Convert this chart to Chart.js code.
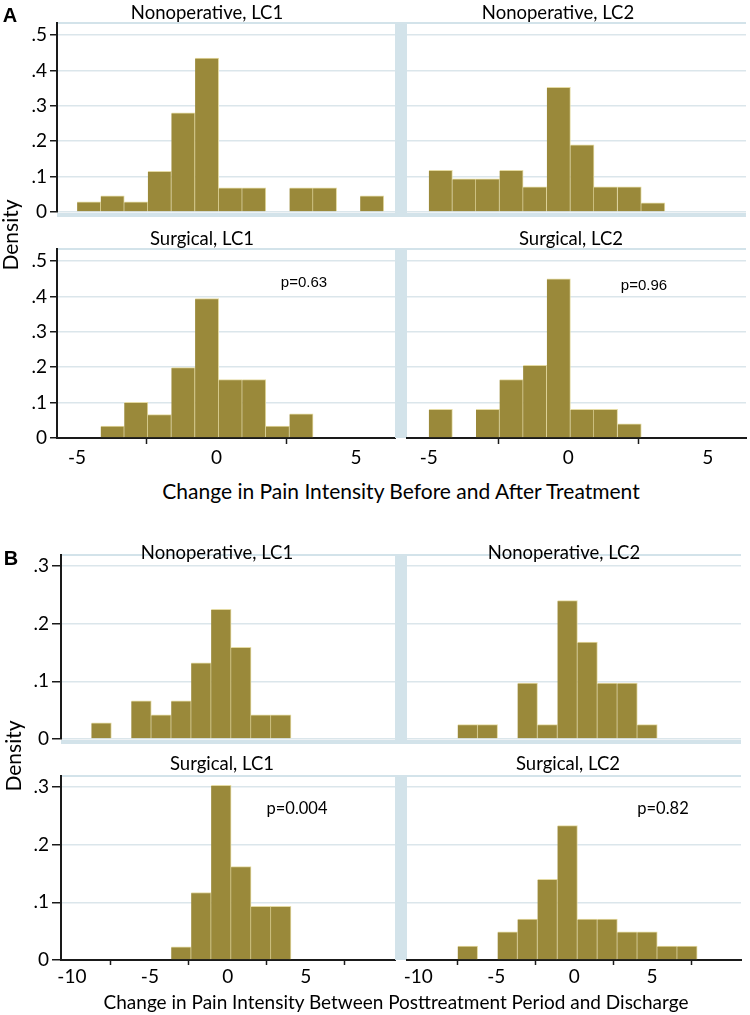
<!DOCTYPE html>
<html>
<head>
<meta charset="utf-8">
<title>Change in pain intensity histograms</title>
<script src="https://cdn.jsdelivr.net/npm/chart.js@4.4.1/dist/chart.umd.min.js"></script>
<style>
  body { margin: 0; background: #fff; }
  #fig { position: relative; width: 750px; height: 1015px; overflow: hidden; font-family: Lato, sans-serif; color: #000; }
  #fig canvas { position: absolute; }
  .t { position: absolute; transform: translate(-50%, -50%); white-space: nowrap; line-height: 1; }
  .letter { font-family: "Liberation Sans", Arial, sans-serif; font-weight: bold; font-size: 20px; }
  .ptitle { font-size: 18.5px; }
  .xa { font-size: 21px; }
  .xb { font-size: 19px; }
  .ytitle { font-size: 21px; transform: translate(-50%, -50%) rotate(-90deg); }
  .pa { font-family: "Liberation Sans", Arial, sans-serif; font-size: 15px; }
  .pb { font-size: 16.5px; }
</style>
</head>
<body>
<div id="fig">
  <canvas id="aNonLC1" width="400" height="225" style="left:0;top:0"></canvas>
  <canvas id="aNonLC2" width="360" height="225" style="left:390px;top:0"></canvas>
  <canvas id="aSurLC1" width="400" height="250" style="left:0;top:225px"></canvas>
  <canvas id="aSurLC2" width="360" height="250" style="left:390px;top:225px"></canvas>
  <canvas id="bNonLC1" width="400" height="215" style="left:0;top:540px"></canvas>
  <canvas id="bNonLC2" width="360" height="215" style="left:390px;top:540px"></canvas>
  <canvas id="bSurLC1" width="400" height="230" style="left:0;top:760px"></canvas>
  <canvas id="bSurLC2" width="360" height="230" style="left:390px;top:760px"></canvas>

  <div class="t letter" style="left:10px;top:15px">A</div>
  <div class="t letter" style="left:11px;top:558px">B</div>

  <div class="t ptitle" style="left:207px;top:12px">Nonoperative, LC1</div>
  <div class="t ptitle" style="left:558px;top:12px">Nonoperative, LC2</div>
  <div class="t ptitle" style="left:202px;top:238px">Surgical, LC1</div>
  <div class="t ptitle" style="left:571px;top:238px">Surgical, LC2</div>
  <div class="t ptitle" style="left:217px;top:552px">Nonoperative, LC1</div>
  <div class="t ptitle" style="left:564px;top:552px">Nonoperative, LC2</div>
  <div class="t ptitle" style="left:222px;top:763px">Surgical, LC1</div>
  <div class="t ptitle" style="left:568px;top:763px">Surgical, LC2</div>

  <div class="t pa" style="left:304px;top:281px">p=0.63</div>
  <div class="t pa" style="left:644px;top:284px">p=0.96</div>
  <div class="t pb" style="left:297px;top:808px">p=0.004</div>
  <div class="t pb" style="left:663px;top:808px">p=0.82</div>

  <div class="t ytitle" style="left:9px;top:235px">Density</div>
  <div class="t ytitle" style="left:12px;top:756px">Density</div>

  <div class="t xa" style="left:401px;top:490px">Change in Pain Intensity Before and After Treatment</div>
  <div class="t xb" style="left:396px;top:1001px">Change in Pain Intensity Between Posttreatment Period and Discharge</div>
</div>

<script>
// ========== DATA ==========
// bin edges (13 bins per figure part)
const A_BIN_EDGES = [-5, -4.15, -3.31, -2.46, -1.62, -0.77, 0.08, 0.92, 1.77, 2.62, 3.46, 4.31, 5.15, 6];
const B_BIN_EDGES = [-8.75, -7.47, -6.19, -4.91, -3.63, -2.35, -1.07, 0.21, 1.49, 2.77, 4.05, 5.33, 6.61, 7.89];

// densities, one per bin
const A_NONOP_LC1 = [0.029, 0.046, 0.029, 0.115, 0.280, 0.435, 0.068, 0.068, 0, 0.068, 0.068, 0, 0.046];
const A_NONOP_LC2 = [0.118, 0.094, 0.094, 0.118, 0.071, 0.352, 0.190, 0.071, 0.071, 0.026, 0, 0, 0];
const A_SURG_LC1 = [0, 0.034, 0.101, 0.066, 0.199, 0.394, 0.165, 0.165, 0.034, 0.068, 0, 0, 0];
const A_SURG_LC2 = [0.081, 0, 0.081, 0.165, 0.205, 0.450, 0.081, 0.081, 0.040, 0, 0, 0, 0];

const B_NONOP_LC1 = [0.028, 0, 0.066, 0.042, 0.066, 0.132, 0.225, 0.159, 0.042, 0.042, 0, 0, 0];
const B_NONOP_LC2 = [0, 0.025, 0.025, 0, 0.097, 0.025, 0.240, 0.168, 0.097, 0.097, 0.025, 0, 0];
const B_SURG_LC1 = [0, 0, 0, 0, 0.023, 0.117, 0.303, 0.162, 0.093, 0.093, 0, 0, 0];
const B_SURG_LC2 = [0, 0.024, 0, 0.049, 0.071, 0.140, 0.233, 0.071, 0.071, 0.049, 0.049, 0.024, 0.024];

// ticks
const A_Y_TICKS = [0, 0.1, 0.2, 0.3, 0.4, 0.5];
const A_Y_LABELS = ['0', '.1', '.2', '.3', '.4', '.5'];
const B_Y_TICKS = [0, 0.1, 0.2, 0.3];
const B_Y_LABELS = ['0', '.1', '.2', '.3'];
const A_X_TICKS = [-5, 0, 5];
const A_X_LABELS = ['-5', '0', '5'];
const B_X_TICKS = [-10, -5, 0, 5, 10];
const B_X_LABELS = ['-10', '-5', '0', '5', ''];

// ========== STYLE ==========
const BAR_FILL = '#9a893a';
const BAR_EDGE = '#e4daa2';
const GRID = '#dbe6eb';
const FRAME = '#d3e3ea';
const AXIS = '#1a1a1a';
const FONT = { family: 'Lato, sans-serif', size: 19 };

// light blue plot-region frame (top edge, left band on right-hand panels, bottom band on upper panels)
const framePlugin = {
  id: 'frame',
  beforeDraw(chart, args, opts) {
    const { ctx, chartArea: a } = chart;
    const lb = opts.leftBand || 0;
    ctx.save();
    ctx.fillStyle = FRAME;
    ctx.fillRect(a.left - lb, a.top - 1, a.right - a.left + lb, 2);
    if (lb) ctx.fillRect(a.left - lb, a.top - 1, lb, a.bottom - a.top + (opts.bottomBand ? 6 : 1));
    if (opts.bottomBand) ctx.fillRect(a.left - lb, a.bottom + 1, a.right - a.left + lb, 4);
    ctx.restore();
  }
};

function binCenters(edges) {
  return edges.slice(0, -1).map((e, i) => (e + edges[i + 1]) / 2);
}

function makePanel(id, values, edges, cfg) {
  const centers = binCenters(edges);
  const left = cfg.side === 'left';
  new Chart(document.getElementById(id), {
    type: 'bar',
    data: {
      datasets: [{
        data: centers.map((c, i) => ({ x: c, y: values[i] })),
        backgroundColor: BAR_FILL,
        borderColor: BAR_EDGE,
        borderWidth: { top: 1, right: 1, left: 0, bottom: 0 },
        barPercentage: 1,
        categoryPercentage: 1
      }]
    },
    options: {
      responsive: false,
      animation: false,
      layout: { padding: cfg.padding },
      plugins: {
        legend: { display: false },
        tooltip: { enabled: false },
        frame: { leftBand: left ? 0 : 12, bottomBand: !cfg.showX }
      },
      scales: {
        x: {
          type: 'linear',
          min: cfg.xRange[0],
          max: cfg.xRange[1],
          offset: false,
          display: cfg.showX,
          afterBuildTicks: s => { s.ticks = cfg.xTicks.map(v => ({ value: v })); },
          afterFit: s => { s.height = cfg.showX ? cfg.xHeight : 0; s.paddingLeft = 0; s.paddingRight = 0; },
          grid: { drawOnChartArea: false, tickLength: cfg.xTickLen, tickColor: AXIS, tickWidth: 1.5 },
          border: { color: AXIS, width: 2 },
          ticks: {
            padding: cfg.xPad,
            color: '#000',
            font: FONT,
            maxRotation: 0,
            autoSkip: false,
            callback: (v, i) => cfg.xLabels[i]
          }
        },
        y: {
          type: 'linear',
          min: 0,
          max: cfg.yMax,
          afterBuildTicks: s => { s.ticks = cfg.yTicks.map(v => ({ value: v })); },
          afterFit: s => { s.width = cfg.yWidth; s.paddingTop = 0; s.paddingBottom = 0; },
          grid: { color: GRID, lineWidth: 1.5, drawTicks: left, tickLength: cfg.yTickLen, tickColor: AXIS, tickWidth: 1.5 },
          border: { display: left, color: AXIS, width: 2 },
          ticks: {
            display: left,
            padding: 3,
            color: '#000',
            font: FONT,
            callback: (v, i) => cfg.yLabels[i]
          }
        }
      }
    },
    plugins: [framePlugin]
  });
}

// ========== PANELS ==========
const A_Y_MAX = 0.534;
const B_Y_MAX = 0.319;

const aBase = { yMax: A_Y_MAX, yTicks: A_Y_TICKS, yLabels: A_Y_LABELS, xTicks: A_X_TICKS, xLabels: A_X_LABELS,
  xTickLen: 6, xPad: 2, xHeight: 37, yTickLen: 7 };
const bBase = { yMax: B_Y_MAX, yTicks: B_Y_TICKS, yLabels: B_Y_LABELS, xTicks: B_X_TICKS, xLabels: B_X_LABELS,
  xTickLen: 5, xPad: 0, xHeight: 30, yTickLen: 9 };

makePanel('aNonLC1', A_NONOP_LC1, A_BIN_EDGES, { ...aBase, side: 'left', showX: false, yWidth: 57,
  xRange: [-5.72, 6.4], padding: { top: 23, right: 5, bottom: 13, left: 0 } });
makePanel('aNonLC2', A_NONOP_LC2, A_BIN_EDGES, { ...aBase, side: 'right', showX: false, yWidth: 17,
  xRange: [-5.78, 6.37], padding: { top: 23, right: 4, bottom: 13, left: 0 } });
makePanel('aSurLC1', A_SURG_LC1, A_BIN_EDGES, { ...aBase, side: 'left', showX: true, yWidth: 57,
  xRange: [-5.72, 6.4], padding: { top: 24, right: 5, bottom: 0, left: 0 } });
makePanel('aSurLC2', A_SURG_LC2, A_BIN_EDGES, { ...aBase, side: 'right', showX: true, yWidth: 17,
  xRange: [-5.78, 6.37], padding: { top: 24, right: 4, bottom: 0, left: 0 } });

makePanel('bNonLC1', B_NONOP_LC1, B_BIN_EDGES, { ...bBase, side: 'left', showX: false, yWidth: 61,
  xRange: [-10.7, 10.72], padding: { top: 15, right: 5, bottom: 16, left: 0 } });
makePanel('bNonLC2', B_NONOP_LC2, B_BIN_EDGES, { ...bBase, side: 'right', showX: false, yWidth: 17,
  xRange: [-10.72, 10.7], padding: { top: 15, right: 9, bottom: 16, left: 0 } });
makePanel('bSurLC1', B_SURG_LC1, B_BIN_EDGES, { ...bBase, side: 'left', showX: true, yWidth: 61,
  xRange: [-10.7, 10.72], padding: { top: 16, right: 5, bottom: 0, left: 0 } });
makePanel('bSurLC2', B_SURG_LC2, B_BIN_EDGES, { ...bBase, side: 'right', showX: true, yWidth: 17,
  xRange: [-10.72, 10.7], padding: { top: 16, right: 9, bottom: 0, left: 0 } });
</script>
</body>
</html>
